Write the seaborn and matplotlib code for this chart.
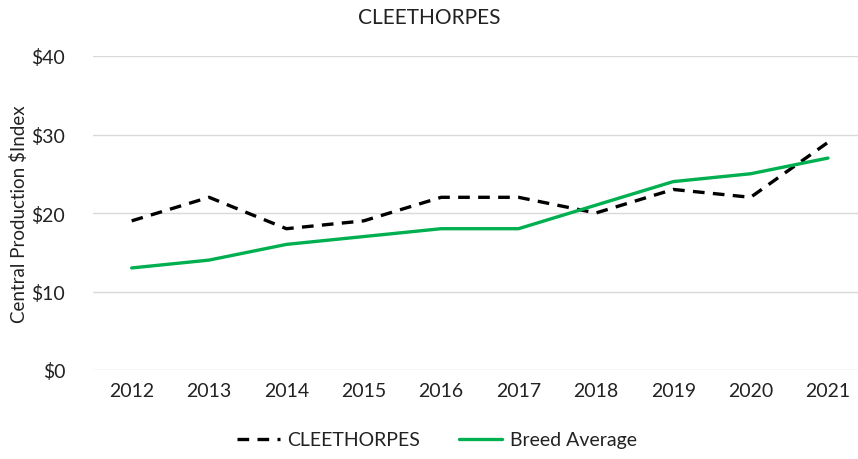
import matplotlib
matplotlib.use("Agg")
import matplotlib.pyplot as plt
import seaborn as sns
import pandas as pd

years = ["2012", "2013", "2014", "2015", "2016", "2017", "2018", "2019", "2020", "2021"]
cleethorpes = [19, 22, 18, 19, 22, 22, 20, 23, 22, 29]
breed_avg = [13, 14, 16, 17, 18, 18, 21, 24, 25, 27]
yticks = [0, 10, 20, 30, 40]
ytick_labels = ["$0", "$10", "$20", "$30", "$40"]

sns.set_style("white")
plt.rcParams['font.family'] = ['Lato', 'DejaVu Sans']

df = pd.DataFrame({
    "Year": years * 2,
    "x": list(range(len(years))) * 2,
    "Value": cleethorpes + breed_avg,
    "Series": ["CLEETHORPES"] * len(years) + ["Breed Average"] * len(years),
})

fig = plt.figure(figsize=(8.58, 4.6), dpi=100)
ax = fig.add_axes([93/858, 1-371/460, 1-93/858, (371-57)/460])

sns.lineplot(data=df, x="x", y="Value", hue="Series", style="Series",
             palette={"CLEETHORPES": "black", "Breed Average": "#00B050"},
             dashes={"CLEETHORPES": (3.5, 2.5), "Breed Average": ""},
             linewidth=2.4, ax=ax, legend=False)

ax.set_xlim(-0.5, 9 + (858-828)/77.3)
ax.set_ylim(0, 40)
ax.set_yticks(yticks)
ax.set_yticklabels(ytick_labels)
ax.set_xticks(range(len(years)))
ax.set_xticklabels(years)
ax.tick_params(axis='both', labelsize=14, colors='#222222', length=0)
ax.tick_params(axis='y', pad=20)
ax.tick_params(axis='x', pad=9)
ax.grid(axis='y', color='#d9d9d9', linewidth=1)
ax.set_axisbelow(True)
for s in ax.spines.values():
    s.set_visible(False)
ax.set_xlabel("")
ax.set_ylabel("Central Production $Index", fontsize=13.5, color='#222222')
ax.yaxis.set_label_coords(-(93-28)/765, 0.5)

fig.text(0.5, 1-18/460, "CLEETHORPES", ha='center', va='center', fontsize=15, color='#222222')

from matplotlib.lines import Line2D
handles = [Line2D([0], [0], color='black', lw=2.4, dashes=(3.5, 2.5)),
           Line2D([0], [0], color='#00B050', lw=2.4)]
fig.legend(handles, ["CLEETHORPES", "Breed Average"], loc='center',
           bbox_to_anchor=(437/858, 1-441/460), ncol=2, frameon=False,
           fontsize=14, handlelength=2.2, columnspacing=2.0, handletextpad=0.4,
           labelcolor='#222222')

fig.savefig("out.png", dpi=100)
